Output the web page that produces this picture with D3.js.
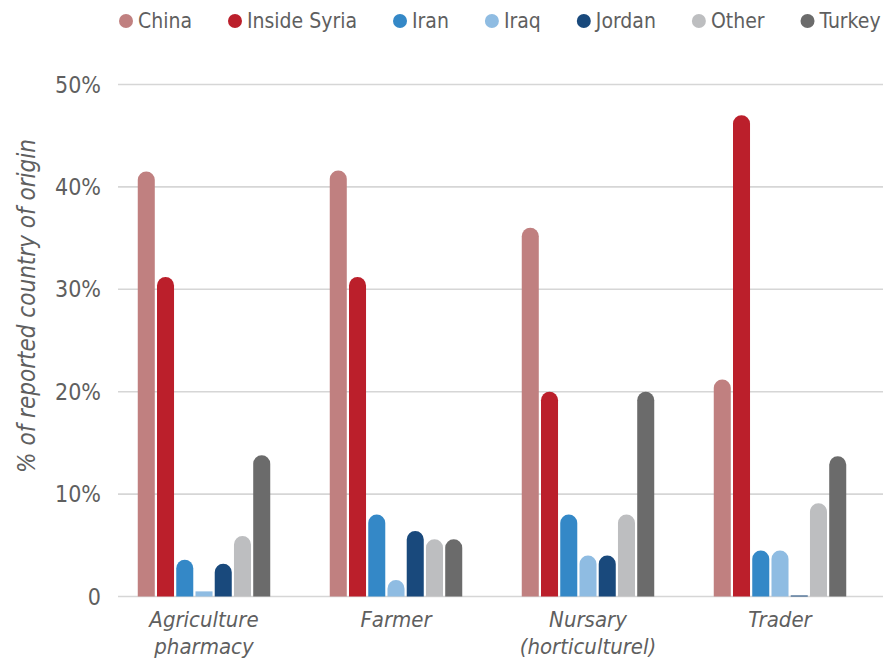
<!DOCTYPE html>
<html>
<head>
<meta charset="utf-8">
<script src="https://cdn.jsdelivr.net/npm/d3@7"></script>
<style>
  body { margin: 0; background: #fff; }
  svg text { font-family: "Liberation Sans Narrow", "DejaVu Sans Condensed", "Roboto", sans-serif; fill: #5f5f5f; }
</style>
</head>
<body>
<div id="chart"></div>
<script>
var categories = [["Agriculture", "pharmacy"], ["Farmer"], ["Nursary", "(horticulturel)"], ["Trader"]];
var series = ["China", "Inside Syria", "Iran", "Iraq", "Jordan", "Other", "Turkey"];
var colors = ["#c08080", "#bb1f2b", "#3488c7", "#8fbce2", "#19497c", "#bdbec0", "#6b6b6b"];
var china = [41.5, 41.6, 36.0, 21.2];
var insideSyria = [31.2, 31.2, 20.0, 47.0];
var iran = [3.6, 8.0, 8.0, 4.5];
var iraq = [0.5, 1.6, 4.0, 4.5];
var jordan = [3.2, 6.4, 4.0, 0.1];
var other = [5.9, 5.6, 8.0, 9.1];
var turkey = [13.8, 5.6, 20.0, 13.7];
var yTicks = [0, 10, 20, 30, 40, 50];

var values = [china, insideSyria, iran, iraq, jordan, other, turkey];
var W = 887, H = 661;

var svg = d3.select("#chart").append("svg").attr("width", W).attr("height", H);

var catKeys = categories.map(function(c) { return c.join(" "); });

var x0 = d3.scaleBand().domain(catKeys).range([108, 876]).paddingInner(0.31).paddingOuter(0.155);
var x1 = d3.scaleBand().domain(series).range([0, x0.bandwidth()]).paddingInner(0.115);
var y = d3.scaleLinear().domain([0, 50]).range([596.5, 84.5]);

// gridlines
svg.append("g").selectAll("line")
    .data(yTicks)
    .enter().append("line")
    .attr("x1", 118).attr("x2", 883)
    .attr("y1", function(d) { return y(d); })
    .attr("y2", function(d) { return y(d); })
    .attr("stroke", "#d6d6d6")
    .attr("stroke-width", 1.6);

// y tick labels
svg.append("g").selectAll("text")
    .data(yTicks)
    .enter().append("text")
    .attr("x", 101)
    .attr("y", function(d) { return y(d); })
    .attr("dy", "0.35em")
    .attr("text-anchor", "end")
    .style("font-size", "23px")
    .text(function(d) { return d === 0 ? "0" : d + "%"; });

// y title
svg.append("text")
    .attr("transform", "translate(35,306) rotate(-90)")
    .attr("text-anchor", "middle")
    .style("font-size", "24px")
    .style("font-style", "italic")
    .text("% of reported country of origin");

// bars with rounded tops
function barPath(x, w, top, base) {
    var h = base - top, r = w / 2;
    if (h <= r) return "M" + x + "," + base + "V" + top + "H" + (x + w) + "V" + base + "Z";
    return "M" + x + "," + base + "V" + (top + r) +
        "A" + r + "," + r + " 0 0 1 " + (x + w) + "," + (top + r) +
        "V" + base + "Z";
}

var groups = svg.append("g").selectAll("g")
    .data(catKeys)
    .enter().append("g")
    .attr("transform", function(d) { return "translate(" + x0(d) + ",0)"; });

groups.selectAll("path")
    .data(function(d, ci) {
        return series.map(function(s, si) { return { s: s, si: si, v: values[si][ci] }; });
    })
    .enter().append("path")
    .attr("d", function(d) { return barPath(x1(d.s), x1.bandwidth(), y(d.v), y(0)); })
    .attr("fill", function(d) { return colors[d.si]; });

// x labels
var xl = svg.append("g").selectAll("text")
    .data(categories)
    .enter().append("text")
    .attr("x", function(d, i) { return x0(catKeys[i]) + x0.bandwidth() / 2; })
    .attr("y", 627)
    .attr("text-anchor", "middle")
    .style("font-size", "22px")
    .style("font-style", "italic");

xl.selectAll("tspan")
    .data(function(d) { return d; })
    .enter().append("tspan")
    .attr("x", function() { return d3.select(this.parentNode).attr("x"); })
    .attr("dy", function(d, i) { return i === 0 ? 0 : 27; })
    .text(function(d) { return d; });

// legend
var legend = svg.append("g");
var lx = 119;
series.forEach(function(s, i) {
    legend.append("circle")
        .attr("cx", lx + 7).attr("cy", 21).attr("r", 7)
        .attr("fill", colors[i]);
    var t = legend.append("text")
        .attr("x", lx + 19).attr("y", 21).attr("dy", "0.35em")
        .style("font-size", "21px")
        .text(s);
    lx += 19 + t.node().getComputedTextLength() + 36;
});
</script>
</body>
</html>
